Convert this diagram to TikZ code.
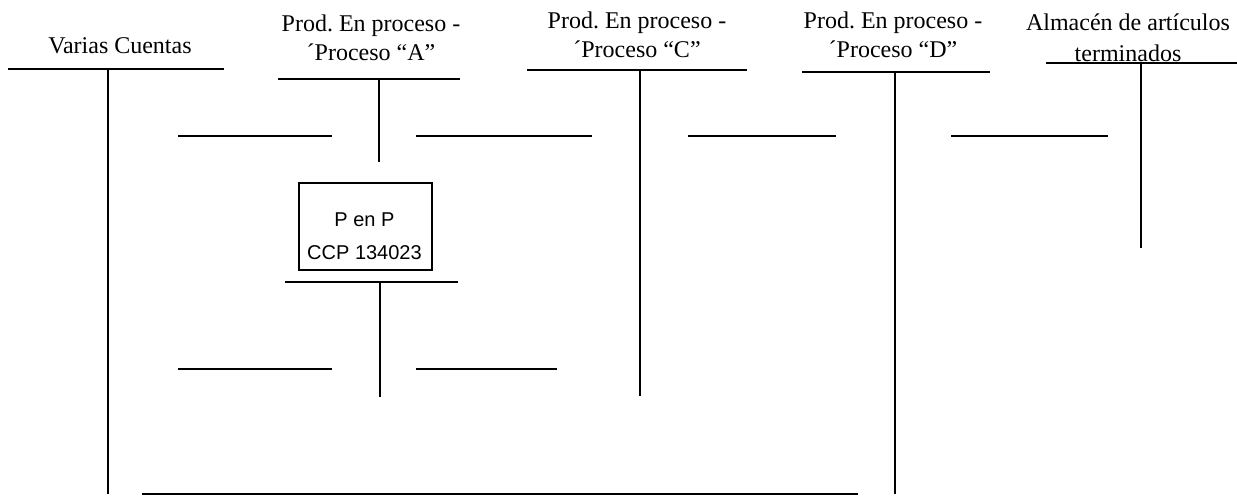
\documentclass[tikz,border=0pt]{standalone}
\usepackage{fontspec}
\setmainfont{Liberation Serif}
\setsansfont{Liberation Sans}
\frenchspacing
\begin{document}
\begin{tikzpicture}[x=0.5pt,y=-0.5pt,
  acct/.style={line width=0.9pt,black},
  ttl/.style={anchor=base,align=center,inner sep=0pt,font=\fontsize{12}{14.5}\selectfont},
  boxtxt/.style={anchor=base,inner sep=0pt,font=\sffamily\fontsize{10}{12}\selectfont},
  pbox/.style={draw,line width=0.9pt,anchor=north west,minimum width=66.5pt,minimum height=43.5pt,inner sep=0pt}]
\useasboundingbox (0,0) rectangle (1237,496);

% titles (anchor base = baseline of last line)
\node[ttl] (tVC) at (120,54) {Varias Cuentas};
\node[ttl] (tA) at (371,61) {Prod. En proceso -\\´Proceso “A”};
\node[ttl] (tC) at (637,58) {Prod. En proceso -\\´Proceso “C”};
\node[ttl] (tD) at (893,58) {Prod. En proceso -\\´Proceso “D”};
\node[ttl,font=\fontsize{12}{15.5}\selectfont] (tT) at (1128,62) {Almacén de artículos\\terminados};

% Varias Cuentas
\coordinate (vcL) at (8,69); \coordinate (vcR) at (224,69);
\coordinate (vcT) at (108,69); \coordinate (vcB) at (108,494);
\draw[acct] (vcL) -- (vcR); \draw[acct] (vcT) -- (vcB);

% Proceso A
\coordinate (aL) at (278,79); \coordinate (aR) at (460,79);
\coordinate (aT) at (379,79); \coordinate (aB) at (379,162);
\draw[acct] (aL) -- (aR); \draw[acct] (aT) -- (aB);

% Proceso C
\coordinate (cL) at (527,70); \coordinate (cR) at (747,70);
\coordinate (cT) at (640,70); \coordinate (cB) at (640,396);
\draw[acct] (cL) -- (cR); \draw[acct] (cT) -- (cB);

% Proceso D
\coordinate (dL) at (802,72); \coordinate (dR) at (990,72);
\coordinate (dT) at (895,72); \coordinate (dB) at (895,494);
\draw[acct] (dL) -- (dR); \draw[acct] (dT) -- (dB);

% Almacen
\coordinate (tL) at (1046,63); \coordinate (tR) at (1237,63);
\coordinate (tT0) at (1141,63); \coordinate (tB) at (1141,248);
\draw[acct] (tL) -- (tR); \draw[acct] (tT0) -- (tB);

% short lines row 1
\coordinate (s1a) at (178,136); \coordinate (s1b) at (332,136);
\coordinate (s2a) at (416,136); \coordinate (s2b) at (592,136);
\coordinate (s3a) at (688,136); \coordinate (s3b) at (836,136);
\coordinate (s4a) at (951,136); \coordinate (s4b) at (1108,136);
\draw[acct] (s1a) -- (s1b);
\draw[acct] (s2a) -- (s2b);
\draw[acct] (s3a) -- (s3b);
\draw[acct] (s4a) -- (s4b);

% box
\node[pbox] (box) at (298,182) {};
\node[boxtxt] (bx1) at (364.5,227) {P en P};
\node[boxtxt] (bx2) at (364.5,260) {CCP 134023};

% lower T account
\coordinate (pL) at (285,282); \coordinate (pR) at (458,282);
\coordinate (pT) at (380,282); \coordinate (pB) at (380,397);
\draw[acct] (pL) -- (pR); \draw[acct] (pT) -- (pB);

% short lines row 2
\coordinate (r1a) at (178,369); \coordinate (r1b) at (332,369);
\coordinate (r2a) at (416,369); \coordinate (r2b) at (557,369);
\draw[acct] (r1a) -- (r1b);
\draw[acct] (r2a) -- (r2b);

% bottom line
\coordinate (bL) at (142,494); \coordinate (bR) at (858,494);
\draw[acct] (bL) -- (bR);
\end{tikzpicture}
\end{document}
